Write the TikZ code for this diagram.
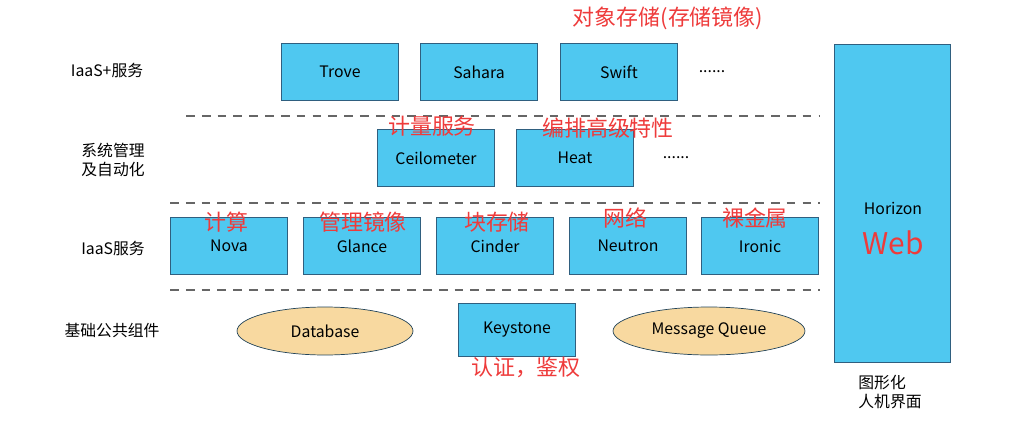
\documentclass[tikz,border=0pt]{standalone}
\usepackage{fontspec}
\setmainfont{Noto Sans CJK SC}
\usetikzlibrary{positioning}
\definecolor{boxfill}{HTML}{4FC8F0}
\definecolor{boxline}{HTML}{2F5F7F}
\definecolor{notered}{HTML}{EE3B3B}
\definecolor{ellfill}{HTML}{F8D9A0}
\tikzset{
	comp/.style={draw=boxline,fill=boxfill,minimum width=2.34cm,minimum height=1.14cm,font=\fontsize{9}{10}\selectfont,inner sep=0pt},
	base/.style={ellipse,draw=boxline!70!black,fill=ellfill,minimum height=0.96cm,font=\fontsize{9}{10}\selectfont,inner sep=0pt},
	layer/.style={font=\fontsize{9}{11}\selectfont,align=center},
	note/.style={text=notered,font=\fontsize{12.5}{14}\selectfont},
	sep/.style={draw=gray!80!black,dashed,line width=1.2pt,dash pattern=on 5pt off 4pt}
}
\usetikzlibrary{shapes.geometric}
\begin{document}
\begin{tikzpicture}[x=0.02cm,y=-0.02cm]
	\useasboundingbox (0,0) rectangle (1021,436);
	% layer names
	\node[layer] (l1) at (107,70) {IaaS+服务};
	\node[layer] (l2) at (113,160) {系统管理\\及自动化};
	\node[layer] (l3) at (113,248) {IaaS服务};
	\node[layer] (l4) at (112,330) {基础公共组件};
	% IaaS+
	\node[comp] (trove) at (340,72) {Trove};
	\node[comp] (sahara) at (479,72) {Sahara};
	\node[comp] (swift) at (619,72) {Swift};
	\node[layer] (dots1) at (712,72) {......};
	\draw[sep] (186,116) -- (820,116);
	% management
	\node[comp] (ceilo) at (436,158) {Ceilometer};
	\node[comp] (heat) at (575,158) {Heat};
	\node[layer] (dots2) at (676,158) {......};
	\draw[sep] (170,203) -- (820,203);
	% IaaS
	\node[comp] (nova) at (229,246) {Nova};
	\node[comp] (glance) at (362,246) {Glance};
	\node[comp] (cinder) at (495,246) {Cinder};
	\node[comp] (neutron) at (628,246) {Neutron};
	\node[comp] (ironic) at (760,246) {Ironic};
	\draw[sep] (170,290) -- (820,290);
	% common
	\node[base,minimum width=3.52cm] (db) at (325,331) {Database};
	\node[comp,minimum height=1.06cm] (keystone) at (517,330) {Keystone};
	\node[base,minimum width=3.84cm] (mq) at (709,331) {Message Queue};
	% dashboard
	\node[comp,minimum width=2.32cm,minimum height=6.36cm] (horizon) at (892,203) {};
	\node[layer] (hname) at (893,208) {Horizon};
	\node[text=notered,font=\fontsize{17}{18}\selectfont] (web) at (893,243) {Web};
	\node[layer,align=left] (gui) at (890,392) {图形化\\人机界面};
	% notes
	\node[note] (n1) at (668,18) {对象存储(存储镜像)};
	\node[note] (n2) at (432,126) {计量服务};
	\node[note] (n3) at (608,128) {编排高级特性};
	\node[note] (n4) at (226,222) {计算};
	\node[note] (n5) at (363,222) {管理镜像};
	\node[note] (n6) at (497,222) {块存储};
	\node[note] (n7) at (625,218) {网络};
	\node[note] (n8) at (755,218) {裸金属};
	\node[note] (n9) at (526,367) {认证，鉴权};
\end{tikzpicture}
\end{document}
